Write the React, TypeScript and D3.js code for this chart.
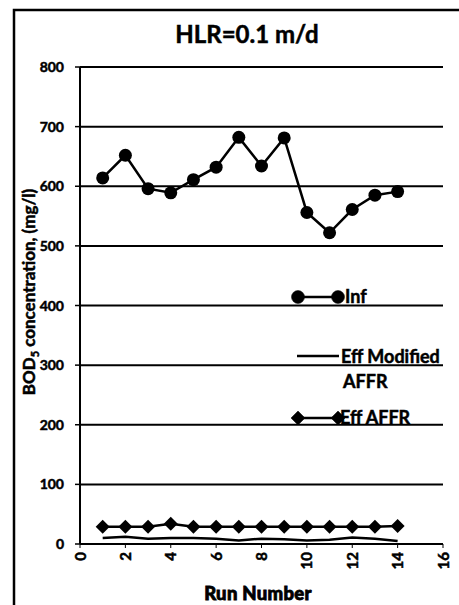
import React from "react";
import * as d3 from "d3";

const runs = [1, 2, 3, 4, 5, 6, 7, 8, 9, 10, 11, 12, 13, 14];
const infValues = [614, 652, 596, 589, 611, 632, 682, 634, 681, 556, 522, 561, 585, 591];
const effModifiedValues = [10, 12, 9, 10, 10, 9, 6, 9, 8, 6, 7, 11, 9, 5];
const effAffrValues = [29, 29, 29, 34, 29, 29, 29, 29, 29, 29, 29, 29, 29, 30];
const yTicks = [0, 100, 200, 300, 400, 500, 600, 700, 800];
const xTicks = [0, 2, 4, 6, 8, 10, 12, 14, 16];

const W = 459;
const H = 605;
const FONT = "Lato, 'Liberation Sans', sans-serif";

export default function App() {
  const x = d3.scaleLinear().domain([0, 16]).range([80, 443]);
  const y = d3.scaleLinear().domain([0, 800]).range([544, 67]);
  const line = d3
    .line<[number, number]>()
    .x((d) => x(d[0]))
    .y((d) => y(d[1]));
  const inf = runs.map((r, i) => [r, infValues[i]] as [number, number]);
  const effM = runs.map((r, i) => [r, effModifiedValues[i]] as [number, number]);
  const effA = runs.map((r, i) => [r, effAffrValues[i]] as [number, number]);
  const diamond = (cx: number, cy: number, s: number) =>
    `M${cx},${cy - s}L${cx + s},${cy}L${cx},${cy + s}L${cx - s},${cy}Z`;
  const heavy = { stroke: "#000", strokeWidth: 0.5, paintOrder: "stroke" } as any;

  return (
    <div style={{ position: "absolute", left: 0, top: 0 }}>
      <svg width={W} height={H} style={{ display: "block", background: "#fff" }} fontFamily={FONT}>
        <rect x={14} y={10} width={460} height={610} fill="none" stroke="#000" strokeWidth={2.5} />
        <text x={247} y={43} textAnchor="middle" fontSize={24} fontWeight="bold" {...heavy}>
          HLR=0.1 m/d
        </text>
        {yTicks.map((t) => (
          <g key={t}>
            {t > 0 && <line x1={80} x2={443} y1={y(t)} y2={y(t)} stroke="#000" strokeWidth={2} />}
            <line x1={75} x2={80} y1={y(t)} y2={y(t)} stroke="#000" strokeWidth={1.5} />
            <text x={64} y={y(t) + 5} textAnchor="end" fontSize={14} fontWeight="bold" {...heavy}>
              {t}
            </text>
          </g>
        ))}
        <line x1={80} x2={80} y1={y(800)} y2={y(0)} stroke="#000" strokeWidth={2} />
        <line x1={80} x2={443} y1={y(0)} y2={y(0)} stroke="#000" strokeWidth={2} />
        {xTicks.map((t) => (
          <g key={t}>
            <line x1={x(t)} x2={x(t)} y1={y(0)} y2={y(0) + 4} stroke="#000" strokeWidth={1} />
            <text
              transform={`translate(${x(t) + 5.5},552) rotate(-90)`}
              textAnchor="end"
              fontSize={15}
              fontWeight="bold"
              {...heavy}
            >
              {t}
            </text>
          </g>
        ))}
        <text x={258} y={600} textAnchor="middle" fontSize={18.5} fontWeight="900" letterSpacing={0.3} {...heavy} strokeWidth={0.8}>
          Run Number
        </text>
        <text
          transform={`translate(35,292) rotate(-90)`}
          textAnchor="middle"
          fontSize={17}
          fontWeight="bold"
          {...heavy}
        >
          BOD<tspan fontSize={11} dy={4}>5</tspan>
          <tspan dy={-4}> concentration, (mg/l)</tspan>
        </text>

        {/* Eff Modified AFFR */}
        <path d={line(effM) || ""} fill="none" stroke="#000" strokeWidth={2.5} />
        {/* Eff AFFR */}
        <path d={line(effA) || ""} fill="none" stroke="#000" strokeWidth={2.5} />
        {effA.map((d, i) => (
          <path key={i} d={diamond(x(d[0]), y(d[1]), 7)} fill="#000" />
        ))}
        {/* Inf */}
        <path d={line(inf) || ""} fill="none" stroke="#000" strokeWidth={2.5} />
        {inf.map((d, i) => (
          <circle key={i} cx={x(d[0])} cy={y(d[1])} r={6.5} fill="#000" />
        ))}

        {/* Legend */}
        <g fontSize={18} fontWeight="bold" {...heavy}>
          <line x1={298} x2={338} y1={297} y2={297} stroke="#000" strokeWidth={2.5} />
          <circle cx={298} cy={297} r={6.5} fill="#000" />
          <circle cx={338} cy={297} r={6.5} fill="#000" />
          <text x={345} y={303}>Inf</text>

          <line x1={297} x2={339} y1={356} y2={356} stroke="#000" strokeWidth={2.5} />
          <text x={341} y={363}>Eff Modified</text>
          <text x={343} y={388}>AFFR</text>

          <line x1={298} x2={338} y1={418} y2={418} stroke="#000" strokeWidth={2.5} />
          <path d={diamond(298, 418, 7)} fill="#000" />
          <path d={diamond(338, 418, 7)} fill="#000" />
          <text x={340} y={424}>Eff AFFR</text>
        </g>
      </svg>
    </div>
  );
}
